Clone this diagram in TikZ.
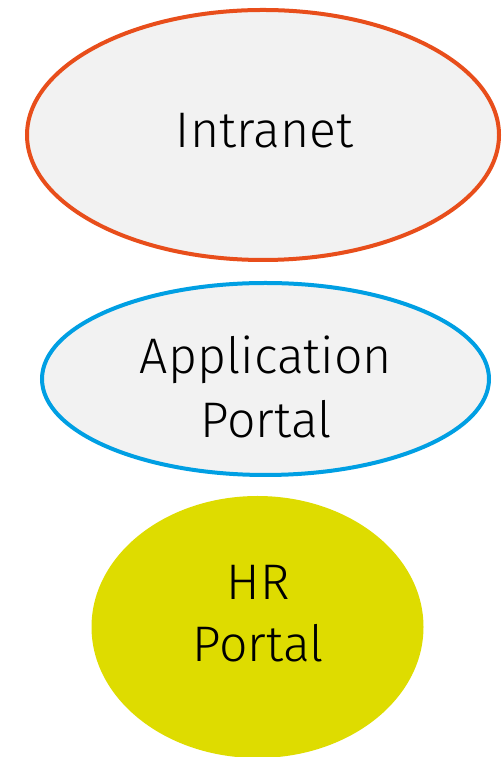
\documentclass[tikz,border=0pt]{standalone}
\usepackage{fontspec}
\setmainfont{Fira Sans Light}
\usetikzlibrary{shapes.geometric}
\definecolor{ell}{HTML}{F2F2F2}
\definecolor{orng}{HTML}{E84E1B}
\definecolor{blu}{HTML}{009FE3}
\definecolor{ylw}{HTML}{DEDC00}
\tikzset{
  oval/.style={ellipse, inner sep=0pt},
  lbl/.style={anchor=base, inner sep=0pt, font=\fontsize{50}{63}\selectfont, text=black},
}
\begin{document}
\begin{tikzpicture}[x=1pt,y=1pt]
\useasboundingbox (0,0) rectangle (501,757);
\node[oval, fill=ell, draw=orng, line width=4pt, minimum width=472pt, minimum height=250pt] (intranet) at (263,622) {};
\node[oval, fill=ell, draw=blu, line width=4pt, minimum width=447pt, minimum height=192pt] (app) at (265.5,378) {};
\node[oval, fill=ylw, minimum width=332pt, minimum height=262pt] (hr) at (257.5,130) {};
\node[lbl] (t1) at (264.5,609) {Intranet};
\node[lbl] (t2a) at (266,383) {Application};
\node[lbl] (t2b) at (266,319) {Portal};
\node[lbl] (t3a) at (258,157) {HR};
\node[lbl] (t3b) at (258,95) {Portal};
\end{tikzpicture}
\end{document}
